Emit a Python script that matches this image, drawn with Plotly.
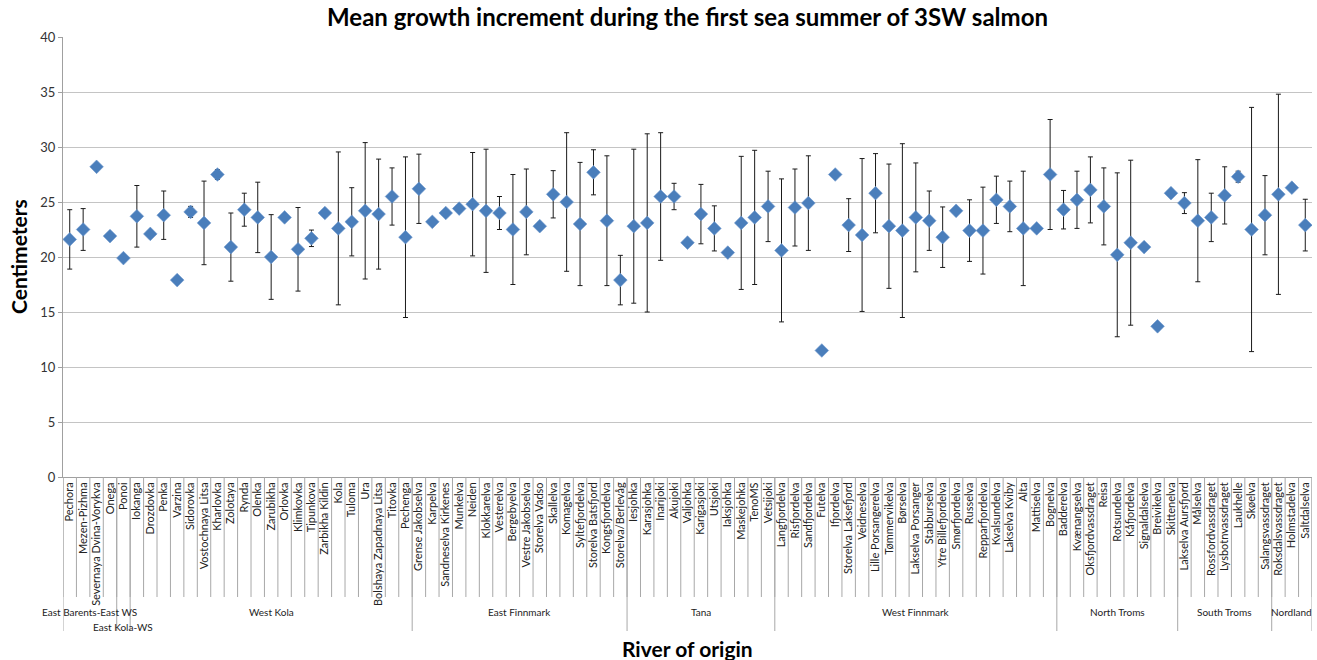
import plotly.graph_objects as go

# River names in plotting order
rivers = [
    "Pechora", "Mezen-Pizhma", "Severnaya Dvina-Vorykva", "Onega", "Ponoi",
    "Iokanga", "Drozdovka", "Penka", "Varzina", "Sidorovka", "Vostochnaya Litsa",
    "Kharlovka", "Zolotaya", "Rynda", "Olenka", "Zarubikha", "Orlovka", "Klimkovka",
    "Tipunkova", "Zarbikha Kildin", "Kola", "Tuloma", "Ura",
    "Bolshaya Zapadnaya Litsa", "Titovka", "Pechenga",
    "Grense Jakobselva", "Karpelva", "Sandneselva Kirkenes", "Munkelva", "Neiden",
    "Klokkarelva", "Vesterelva", "Bergebyelva", "Vestre Jakobselva", "Storelva Vadso",
    "Skallelva", "Komagelva", "Syltefjordelva", "Storelva Batsfjord",
    "Kongsfjordelva", "Storelva/Berlevåg",
    "Iesjohka", "Karasjohka", "Inarijoki", "Akujoki", "Valjohka", "Karigasjoki",
    "Utsjoki", "Iaksjohka", "Maskejohka", "TenoMS", "Vetsijoki",
    "Langfjordelva", "Risfjordelva", "Sandfjordelva", "Futelva", "Ifjordelva",
    "Storelva Laksefjord", "Veidneselva", "Lille Porsangerelva", "Tømmervikelva",
    "Børselva", "Lakselva Porsanger", "Stabburselva", "Ytre Billefjordelva",
    "Smørfjordelva", "Russelva", "Repparfjordelva", "Kvalsundelva", "Lakselva Kviby",
    "Alta", "Mattiselva", "Bognelva",
    "Badderelva", "Kvænangselva", "Oksfjordvassdraget", "Reisa", "Rotsundelva",
    "Kåfjordelva", "Signaldalselva", "Breivikelva", "Skittenelva",
    "Lakselva Aursfjord", "Målselva", "Rossfordvassdraget", "Lysbotnvassdraget",
    "Laukhelle", "Skøelva", "Salangsvassdraget",
    "Roksdalsvassdraget", "Holmstadelva", "Saltdalselva",
]

# Regions and the number of rivers in each
regions = ["East Barents-East WS", "East Kola-WS", "West Kola", "East Finnmark",
           "Tana", "West Finnmark", "North Troms", "South Troms", "Nordland"]
region_sizes = [4, 1, 21, 16, 11, 21, 9, 7, 3]

# Mean growth increment (cm)
mean_cm = [
    21.6, 22.5, 28.2, 21.9, 19.9, 23.7, 22.1, 23.8, 17.9, 24.1, 23.1, 27.5, 20.9,
    24.3, 23.6, 20.0, 23.6, 20.7, 21.7, 24.0, 22.6, 23.2, 24.2, 23.9, 25.5, 21.8,
    26.2, 23.2, 24.0, 24.4, 24.8, 24.2, 24.0, 22.5, 24.1, 22.8, 25.7, 25.0, 23.0,
    27.7, 23.3, 17.9,
    22.8, 23.1, 25.5, 25.5, 21.3, 23.9, 22.6, 20.4, 23.1, 23.6, 24.6,
    20.6, 24.5, 24.9, 11.5, 27.5, 22.9, 22.0, 25.8, 22.8, 22.4, 23.6, 23.3, 21.8,
    24.2, 22.4, 22.4, 25.2, 24.6, 22.6, 22.6, 27.5,
    24.3, 25.2, 26.1, 24.6, 20.2, 21.3, 20.9, 13.7, 25.8,
    24.9, 23.3, 23.6, 25.6, 27.3, 22.5, 23.8,
    25.7, 26.3, 22.9,
]

# Standard deviation (cm); None where no spread is available
sd_cm = [
    2.7, 1.9, None, None, None, 2.8, None, 2.2, None, 0.5, 3.8, 0.45, 3.1,
    1.5, 3.2, 3.85, None, 3.8, 0.75, None, 6.95, 3.1, 6.2, 5.0, 2.6, 7.3,
    3.15, None, None, None, 4.7, 5.6, 1.5, 5.0, 3.9, None, 2.15, 6.3, 5.6,
    2.05, 5.9, 2.25,
    7.0, 8.1, 5.8, 1.2, None, 2.7, 2.05, None, 6.05, 6.1, 3.2,
    6.5, 3.5, 4.3, None, None, 2.4, 6.95, 3.6, 5.65, 7.9, 4.95, 2.7, 2.75,
    None, 2.8, 3.95, 2.15, 2.3, 5.2, None, 5.0,
    1.75, 2.6, 3.0, 3.5, 7.45, 7.5, None, None, None,
    0.95, 5.55, 2.2, 2.6, 0.5, 11.1, 3.6,
    9.1, None, 2.35,
]

y_ticks = [0, 5, 10, 15, 20, 25, 30, 35, 40]

FONT = "Lato"
GRID = "#c4c4c4"
SEP = "#a8a8a8"

fig = go.Figure()
fig.add_trace(go.Scatter(
    x=rivers,
    y=mean_cm,
    mode="markers",
    marker=dict(symbol="diamond", size=10.5, color="#4a7ebb",
                line=dict(width=0.6, color="#6d97cc")),
    error_y=dict(type="data", array=sd_cm, visible=True,
                 color="#1a1a1a", thickness=1, width=2.5),
    showlegend=False,
))

# Category separator ticks below the axis (paper units relative to plot height)
plot_h = 440.0
short_drop = -120.0 / plot_h
long_drop = -154.0 / plot_h
shapes = []
for k in range(len(rivers) + 1):
    shapes.append(dict(type="line", xref="x", yref="paper",
                       x0=k - 0.5, x1=k - 0.5, y0=0, y1=short_drop,
                       line=dict(color=SEP, width=1)))

# Region boundaries and region labels
annotations = []
start = 0
bounds = [0]
for name, n in zip(regions, region_sizes):
    end = start + n
    bounds.append(end)
    row = 1 if name == "East Kola-WS" else 0
    annotations.append(dict(
        x=(start + end) / 2 - 0.5, xref="x",
        y=(-135.0 - 15.0 * row) / plot_h, yref="paper",
        text=name, showarrow=False, xanchor="center", yanchor="middle",
        font=dict(family=FONT, size=10, color="#222222"),
    ))
    start = end
for b in bounds:
    shapes.append(dict(type="line", xref="x", yref="paper",
                       x0=b - 0.5, x1=b - 0.5, y0=0, y1=long_drop,
                       line=dict(color=SEP, width=1)))

annotations.append(dict(
    text="<b>Centimeters</b>", textangle=-90, showarrow=False,
    x=-45.0 / 1249, xref="paper", y=0.5, yref="paper",
    xanchor="center", yanchor="middle",
    font=dict(family=FONT, size=21, color="#000000"),
))
annotations.append(dict(
    text="<b>River of origin</b>", showarrow=False,
    x=0.5, xref="paper", y=-171.0 / plot_h, yref="paper",
    xanchor="center", yanchor="middle",
    font=dict(family=FONT, size=21, color="#000000"),
))

fig.update_layout(
    width=1317, height=660,
    margin=dict(l=63, r=5, t=37, b=183),
    paper_bgcolor="white", plot_bgcolor="white",
    title=dict(text="<b>Mean growth increment during the first sea summer of 3SW salmon</b>",
               x=0.5, xref="paper", xanchor="center",
               y=1 - 18.0 / 660, yref="container", yanchor="middle",
               font=dict(family=FONT, size=24, color="#000000")),
    xaxis=dict(
        type="category", range=[-0.5, len(rivers) - 0.5],
        tickmode="array", tickvals=rivers, ticktext=rivers,
        tickangle=-90, ticks="", showgrid=False,
        showline=True, linecolor="#a0a0a0", linewidth=1,
        tickfont=dict(family=FONT, size=11, color="#222222"),
        automargin=False, fixedrange=True,
    ),
    yaxis=dict(
        range=[0, 40], tickmode="array", tickvals=y_ticks,
        showgrid=True, gridcolor=GRID, gridwidth=1, zeroline=False,
        showline=True, linecolor="#a0a0a0", linewidth=1,
        ticks="outside", ticklen=4, tickcolor="#a0a0a0",
        tickfont=dict(family=FONT, size=13, color="#333333"),
        automargin=False, fixedrange=True,
    ),
    shapes=shapes,
    annotations=annotations,
    font=dict(family=FONT),
)

fig.write_html("out.html")
